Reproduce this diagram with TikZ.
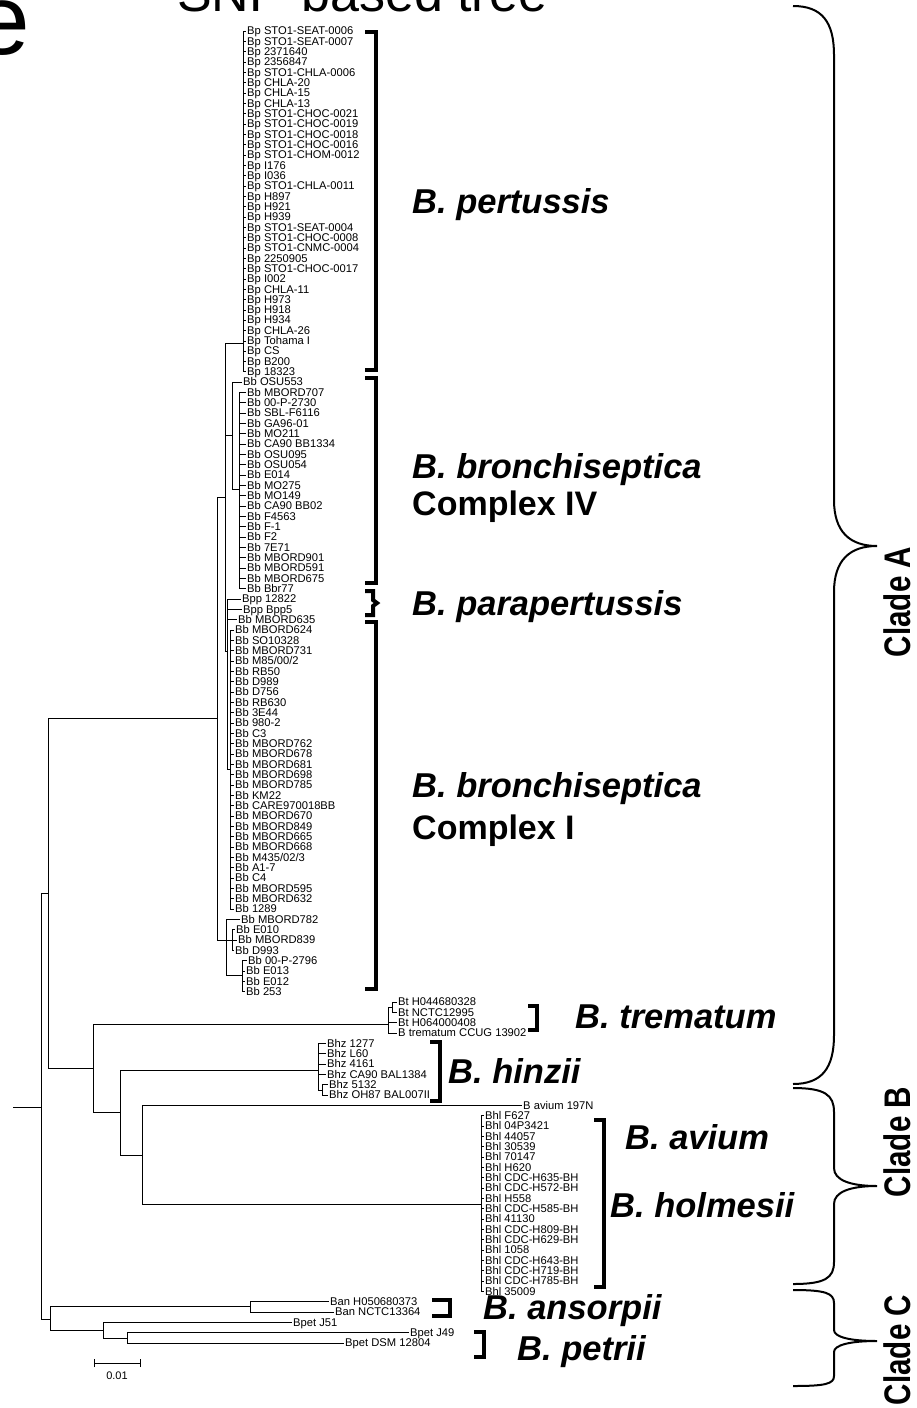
\documentclass[tikz,border=0pt]{standalone}
\usepackage{fontspec}
\setmainfont{Liberation Sans}
\begin{document}
\begin{tikzpicture}[x=1pt,y=-1pt,
  leaf/.style={anchor=west,inner xsep=1.5pt,inner ysep=0pt,xshift=-1.5pt,font=\fontsize{11.2}{11}\selectfont,text height=9pt,text depth=1.5pt},
  br/.style={line width=0.8pt},
  bracket/.style={line width=4pt,miter limit=10},
  species/.style={anchor=west,inner sep=0pt,font=\fontsize{34.5}{34}\selectfont\bfseries\itshape,text height=24.7pt,text depth=0pt},
  cplx/.style={anchor=west,inner sep=0pt,font=\fontsize{34}{34}\selectfont\bfseries,text height=24.3pt,text depth=0pt},
  brace/.style={line width=2pt},
  clade/.style={rotate=90,inner sep=0pt,font=\fontsize{37}{37}\selectfont\bfseries,text height=26.5pt,text depth=0pt}
]
\useasboundingbox (0,0) rectangle (916,1408);

% title and panel letter
\node[anchor=base west,inner sep=0pt,font=\fontsize{52}{52}\selectfont] (title) at (177,12) {SNP-based tree};
\node[anchor=base east,inner sep=0pt,font=\fontsize{100}{100}\selectfont] (panel) at (30,54) {e};

% internal nodes
\coordinate (r0) at (13,1107);
\coordinate (root) at (41,1107);
\coordinate (nAB) at (48,893);
\coordinate (nC) at (50,1319);
\coordinate (nA) at (217,718);
\coordinate (nB) at (93,1068);
\coordinate (nU) at (225,497);
\coordinate (nBp) at (243,343);
\coordinate (nCIV0) at (232,435);
\coordinate (nCIVc) at (239,489);
\coordinate (nBppCI) at (227,651);
\coordinate (nCI) at (230,769);
\coordinate (nBot) at (226,940);
\coordinate (nE) at (232,940);
\coordinate (nE2) at (242,975);
\coordinate (nBt) at (388,1024);
\coordinate (nBt12) at (392,1007);
\coordinate (nB2) at (120,1112);
\coordinate (nBhz) at (318,1070);
\coordinate (nBhz56) at (322,1090);
\coordinate (nB3) at (142,1155);
\coordinate (nBhl) at (481,1204);
\coordinate (nBan) at (250,1306);
\coordinate (nBpet) at (103,1330);
\coordinate (nBpet2) at (127,1338);

% leaves: B. pertussis
\foreach \i/\t in {1/{Bp STO1-SEAT-0006},2/{Bp STO1-SEAT-0007},3/{Bp 2371640},4/{Bp 2356847},5/{Bp STO1-CHLA-0006},6/{Bp CHLA-20},7/{Bp CHLA-15},8/{Bp CHLA-13},9/{Bp STO1-CHOC-0021},10/{Bp STO1-CHOC-0019},11/{Bp STO1-CHOC-0018},12/{Bp STO1-CHOC-0016},13/{Bp STO1-CHOM-0012},14/{Bp I176},15/{Bp I036},16/{Bp STO1-CHLA-0011},17/{Bp H897},18/{Bp H921},19/{Bp H939},20/{Bp STO1-SEAT-0004},21/{Bp STO1-CHOC-0008},22/{Bp STO1-CNMC-0004},23/{Bp 2250905},24/{Bp STO1-CHOC-0017},25/{Bp I002},26/{Bp CHLA-11},27/{Bp H973},28/{Bp H918},29/{Bp H934},30/{Bp CHLA-26},31/{Bp Tohama I},32/{Bp CS},33/{Bp B200},34/{Bp 18323}}{
  \node[leaf] (L\i) at (247,{31+(\i-1)*10.33}) {\t};
  \draw[br] (nBp) |- (L\i.west);
}
% Complex IV
\node[leaf] (L35) at (243,{31+34*10.33}) {Bb OSU553};
\draw[br] (nCIV0) |- (L35.west);
\foreach \i/\t in {36/{Bb MBORD707},37/{Bb 00-P-2730},38/{Bb SBL-F6116},39/{Bb GA96-01},40/{Bb MO211},41/{Bb CA90 BB1334},42/{Bb OSU095},43/{Bb OSU054},44/{Bb E014},45/{Bb MO275},46/{Bb MO149},47/{Bb CA90 BB02},48/{Bb F4563},49/{Bb F-1},50/{Bb F2},51/{Bb 7E71},52/{Bb MBORD901},53/{Bb MBORD591},54/{Bb MBORD675},55/{Bb Bbr77}}{
  \node[leaf] (L\i) at (247,{31+(\i-1)*10.33}) {\t};
  \draw[br] (nCIVc) |- (L\i.west);
}
% parapertussis
\node[leaf] (L56) at (242,{31+55*10.33}) {Bpp 12822};
\node[leaf] (L57) at (243,{31+56*10.33}) {Bpp Bpp5};
\node[leaf] (L58) at (238,{31+57*10.33}) {Bb MBORD635};
\foreach \i in {56,57,58}{\draw[br] (nBppCI) |- (L\i.west);}
% Complex I
\foreach \i/\t in {59/{Bb MBORD624},60/{Bb SO10328},61/{Bb MBORD731},62/{Bb M85/00/2},63/{Bb RB50},64/{Bb D989},65/{Bb D756},66/{Bb RB630},67/{Bb 3E44},68/{Bb 980-2},69/{Bb C3},70/{Bb MBORD762},71/{Bb MBORD678},72/{Bb MBORD681},73/{Bb MBORD698},74/{Bb MBORD785},75/{Bb KM22},76/{Bb CARE970018BB},77/{Bb MBORD670},78/{Bb MBORD849},79/{Bb MBORD665},80/{Bb MBORD668},81/{Bb M435/02/3},82/{Bb A1-7},83/{Bb C4},84/{Bb MBORD595},85/{Bb MBORD632},86/{Bb 1289}}{
  \node[leaf] (L\i) at (235,{31+(\i-1)*10.33}) {\t};
  \draw[br] (nCI) |- (L\i.west);
}
% bottom group of clade A
\node[leaf] (L87) at (241,{31+86*10.33}) {Bb MBORD782};
\node[leaf] (L88) at (236,{31+87*10.33}) {Bb E010};
\node[leaf] (L89) at (238,{31+88*10.33}) {Bb MBORD839};
\node[leaf] (L90) at (235,{31+89*10.33}) {Bb D993};
\node[leaf] (L91) at (248,{31+90*10.33}) {Bb 00-P-2796};
\node[leaf] (L92) at (246,{31+91*10.33}) {Bb E013};
\node[leaf] (L93) at (246,{31+92*10.33}) {Bb E012};
\node[leaf] (L94) at (246,{31+93*10.33}) {Bb 253};
\draw[br] (nBot) |- (L87.west);
\foreach \i in {88,89,90}{\draw[br] (nE) |- (L\i.west);}
\foreach \i in {91,92,93,94}{\draw[br] (nE2) |- (L\i.west);}
% trematum
\foreach \i/\t in {95/{Bt H044680328},96/{Bt NCTC12995},97/{Bt H064000408},98/{B trematum CCUG 13902}}{
  \node[leaf] (L\i) at (398,{31+(\i-1)*10.33}) {\t};
}
\draw[br] (nBt12) |- (L95.west); \draw[br] (nBt12) |- (L96.west);
\draw[br] (nBt) |- (L97.west); \draw[br] (nBt) |- (L98.west);
% hinzii
\foreach \i/\t in {99/{Bhz 1277},100/{Bhz L60},101/{Bhz 4161},102/{Bhz CA90 BAL1384}}{
  \node[leaf] (L\i) at (327,{31+(\i-1)*10.33}) {\t};
  \draw[br] (nBhz) |- (L\i.west);
}
\node[leaf] (L103) at (329,{31+102*10.33}) {Bhz 5132};
\node[leaf] (L104) at (329,{31+103*10.33}) {Bhz OH87 BAL007II};
\draw[br] (nBhz56) |- (L103.west); \draw[br] (nBhz56) |- (L104.west);
% avium
\node[leaf] (L105) at (523,{31+104*10.33}) {B avium 197N};
\draw[br] (nB3) |- (L105.west);
% holmesii
\foreach \i/\t in {106/{Bhl F627},107/{Bhl 04P3421},108/{Bhl 44057},109/{Bhl 30539},110/{Bhl 70147},111/{Bhl H620},112/{Bhl CDC-H635-BH},113/{Bhl CDC-H572-BH},114/{Bhl H558},115/{Bhl CDC-H585-BH},116/{Bhl 41130},117/{Bhl CDC-H809-BH},118/{Bhl CDC-H629-BH},119/{Bhl 1058},120/{Bhl CDC-H643-BH},121/{Bhl CDC-H719-BH},122/{Bhl CDC-H785-BH},123/{Bhl 35009}}{
  \node[leaf] (L\i) at (485,{31+(\i-1)*10.33}) {\t};
  \draw[br] (nBhl) |- (L\i.west);
}
% clade C leaves
\node[leaf] (L124) at (330,{31+123*10.33}) {Ban H050680373};
\node[leaf] (L125) at (335,{31+124*10.33}) {Ban NCTC13364};
\node[leaf] (L126) at (293,{31+125*10.33}) {Bpet J51};
\node[leaf] (L127) at (410,{31+126*10.33}) {Bpet J49};
\node[leaf] (L128) at (345,{31+127*10.33}) {Bpet DSM 12804};
\draw[br] (nBan) |- (L124.west); \draw[br] (nBan) |- (L125.west);
\draw[br] (nBpet) |- (L126.west);
\draw[br] (nBpet2) |- (L127.west); \draw[br] (nBpet2) |- (L128.west);

% internal edges
\draw[br] (r0) -- (root);
\draw[br] (root) |- (nAB);
\draw[br] (root) |- (nC);
\draw[br] (nAB) |- (nA);
\draw[br] (nAB) |- (nB);
\draw[br] (nA) |- (nU);
\draw[br] (nA) |- (nBot);
\draw[br] (nU) |- (nBp);
\draw[br] (nU) |- (nCIV0);
\draw[br] (nCIV0) |- (nCIVc);
\draw[br] (nU) |- (nBppCI);
\draw[br] (nBppCI) |- (nCI);
\draw[br] (nBot) |- (nE);
\draw[br] (nBot) |- (nE2);
\draw[br] (nB) |- (nBt);
\draw[br] (nBt) |- (nBt12);
\draw[br] (nB) |- (nB2);
\draw[br] (nB2) |- (nBhz);
\draw[br] (nBhz) |- (nBhz56);
\draw[br] (nB2) |- (nB3);
\draw[br] (nB3) |- (nBhl);
\draw[br] (nC) |- (nBan);
\draw[br] (nC) |- (nBpet);
\draw[br] (nBpet) |- (nBpet2);

% scale bar
\coordinate (s1) at (94,1363);
\coordinate (s2) at (140,1363);
\draw[br] (s1) -- (s2);
\draw[br] ([yshift=-4pt]s1) -- ([yshift=4pt]s1);
\draw[br] ([yshift=-4pt]s2) -- ([yshift=4pt]s2);
\node[inner sep=0pt,font=\fontsize{11}{11}\selectfont] (scale) at (117,1376) {0.01};

% brackets
\draw[bracket] (365,32) -- (376,32) -- (376,370) -- (365,370);
\draw[bracket] (365,378) -- (376,378) -- (376,583) -- (365,583);
\draw[bracket] (365,591) -- (373,591) -- (373,600) -- (377,603) -- (373,606) -- (373,615) -- (365,615);
\draw[bracket] (365,622) -- (376,622) -- (376,989) -- (365,989);
\draw[bracket] (528,1006) -- (537,1006) -- (537,1030) -- (528,1030);
\draw[bracket] (430,1042) -- (440,1042) -- (440,1101) -- (430,1101);
\draw[bracket] (594,1120) -- (604,1120) -- (604,1287) -- (594,1287);
\draw[bracket] (432,1300) -- (450,1300) -- (450,1316) -- (432,1316);
\draw[bracket] (474,1332) -- (484,1332) -- (484,1357) -- (474,1357);

% species names
\node[species] (sp1) at (412,201) {B. pertussis};
\node[species] (sp2) at (412,466) {B. bronchiseptica};
\node[cplx] (cx4) at (412,503) {Complex IV};
\node[species] (sp3) at (412,603) {B. parapertussis};
\node[species] (sp4) at (412,785) {B. bronchiseptica};
\node[cplx] (cx1) at (412,827) {Complex I};
\node[species] (sp5) at (575,1016) {B. trematum};
\node[species] (sp6) at (448,1071) {B. hinzii};
\node[species] (sp7) at (625,1137) {B. avium};
\node[species] (sp8) at (610,1205) {B. holmesii};
\node[species] (sp9) at (483,1307) {B. ansorpii};
\node[species] (sp10) at (517,1348) {B. petrii};

% clade braces
\draw[brace] (793,6) .. controls (822,6) and (834,22) .. (834,55) -- (834,500) .. controls (834,532) and (850,546) .. (877,546) .. controls (850,546) and (834,560) .. (834,592) -- (834,1035) .. controls (834,1068) and (822,1084) .. (793,1084);
\draw[brace] (793,1088) .. controls (825,1088) and (834,1095) .. (834,1112) -- (834,1168) .. controls (834,1180) and (850,1186) .. (877,1186) .. controls (850,1186) and (834,1192) .. (834,1204) -- (834,1262) .. controls (834,1278) and (825,1284) .. (793,1284);
\draw[brace] (793,1290) .. controls (825,1290) and (834,1293) .. (834,1303) -- (834,1330) .. controls (834,1337) and (850,1341) .. (877,1341) .. controls (850,1341) and (834,1345) .. (834,1352) -- (834,1376) .. controls (834,1384) and (825,1386) .. (793,1386);
\node[clade] (cA) at (897,602) {\scalebox{0.8}[1]{Clade A}};
\node[clade] (cB) at (897,1142) {\scalebox{0.8}[1]{Clade B}};
\node[clade] (cC) at (897,1350) {\scalebox{0.8}[1]{Clade C}};
\end{tikzpicture}
\end{document}
